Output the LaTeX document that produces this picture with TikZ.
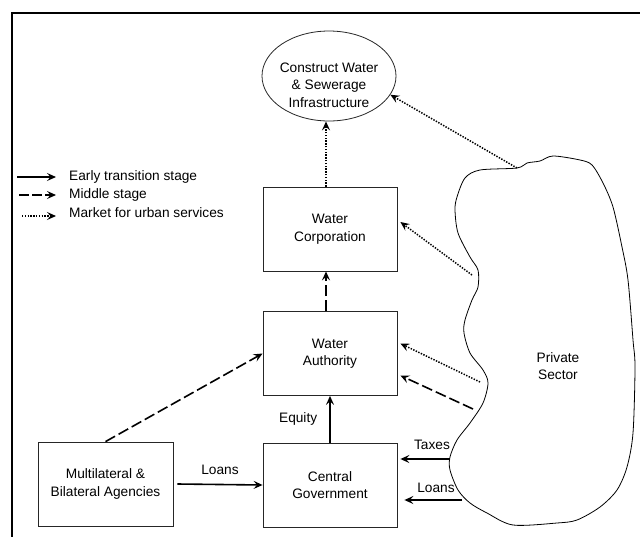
\documentclass[tikz,border=0pt]{standalone}
\usepackage{fontspec}
\setmainfont{Liberation Sans}
\usetikzlibrary{arrows.meta,shapes.geometric,calc}
\begin{document}
\begin{tikzpicture}[x=1pt,y=-1pt,
  font=\fontsize{13.7}{17.5}\selectfont,
  box/.style={draw=black!85, line width=0.8pt, minimum width=134pt, minimum height=84pt, align=center, inner sep=0pt},
  tip/.style={-{Stealth[length=9pt,width=8pt,inset=3.5pt]}},
  solidarrow/.style={tip, line width=1.6pt},
  dasharrow/.style={tip, line width=1.6pt, dash pattern=on 11pt off 4pt},
  dotarrow/.style={tip, line width=1.5pt, dash pattern=on 1.4pt off 1.4pt},
  lbl/.style={inner sep=0pt, align=center}]
\useasboundingbox (0,0) rectangle (640,536);
% frame
\draw[line width=2.8pt] (12,545) -- (12,13) -- (650,13);

% nodes
\node[draw=black!85, line width=0.8pt, ellipse, minimum width=134pt, minimum height=90pt, inner sep=0pt] (infra) at (329,76) {};
\node[lbl] (infratext) at (329,85) {Construct Water\\\& Sewerage\\Infrastructure};
\node[box] (corp) at (330,229) {Water\\Corporation};
\node[box] (auth) at (330,353.5) {Water\\Authority};
\node[box] (central) at (330,485) {Central\\Government};
\node[box, minimum width=135pt] (multi) at (105.5,484) {Multilateral \&\\Bilateral Agencies};

% private sector cloud
\draw[line width=0.8pt] plot[smooth cycle, tension=0.5] coordinates {
(517,168) (527,163) (540,161) (553,156) (580,160) (592,165) (603,183) (613,207) (622,247) (628,280) (633,340) (635,367) (633,433) (627,467) (617,490) (600,507) (577,520) (557,523) (513,525) (487,513) (470,503) (458,490) (450,470) (450,457) (457,440) (470,423) (483,403) (488,383) (483,370) (470,353) (464,333) (465,320) (472,300) (478,287) (478,270) (470,257) (458,233) (455,210) (457,197) (465,178) (480,170)};
\node[lbl] (private) at (558,366) {Private\\Sector};

\coordinate (c1) at (517,168);
\coordinate (c2) at (472,275);
\coordinate (c3) at (480,382);
\coordinate (c4) at (473,409);
\coordinate (c5) at (450,459);
\coordinate (c6) at (462,500);

% connectors
\draw[dotarrow] (corp.north) ++(-4,0) coordinate (cn) -- (cn |- infra.south);
\draw[dasharrow] (auth.north) ++(-4,0) coordinate (an) -- (an |- corp.south);
\draw[solidarrow] (central.north) -- (auth.south) node[lbl, midway, left=12pt] {Equity};
\draw[dasharrow] (multi.north) -- (auth.west);
\draw[solidarrow] (multi.east) ++(4,0) coordinate (me) -- (central.west) node[lbl, midway, above=9pt] {Loans};

\draw[dotarrow] (c1) -- (infra.-17);
\draw[dotarrow] (c2) -- ($(corp.east)+(3,-7)$);
\draw[dotarrow] (c3) -- ($(auth.east)+(3,-10)$);
\draw[dasharrow] (c4) -- ($(auth.east)+(3,22)$);
\draw[solidarrow] (c5) -- ($(central.east)+(3,-26)$);
\draw[solidarrow] (c6) -- ($(central.east)+(7,15)$);
\node[lbl] (taxes) at (432,445) {Taxes};
\node[lbl] (loans2) at (436,488) {Loans};

% legend
\node[lbl, anchor=west] (lg1) at (69,177) {Early transition stage};
\node[lbl, anchor=west] (lg2) at (69,195) {Middle stage};
\node[lbl, anchor=west] (lg3) at (69,213) {Market for urban services};
\coordinate (l1) at (17,177);
\coordinate (l2) at (19,195);
\coordinate (l3) at (22,216);
\draw[solidarrow] (l1) -- ($(lg1.west)+(-13,0)$);
\draw[dasharrow, dash pattern=on 10pt off 3pt] (l2) -- ($(lg2.west)+(-13,0)$);
\draw[dotarrow] (l3) -- ($(lg3.west)+(-13,3)$);
\end{tikzpicture}
\end{document}
